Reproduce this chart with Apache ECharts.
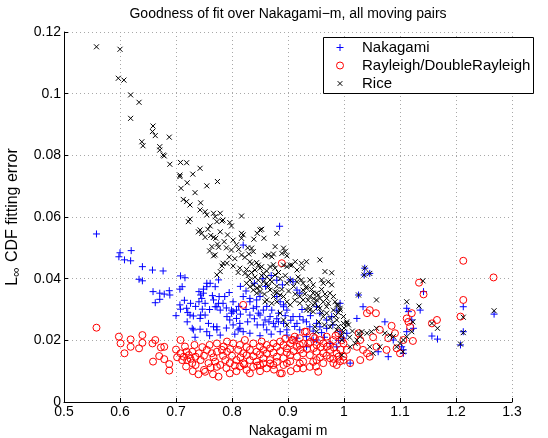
<!DOCTYPE html>
<html>
<head>
<meta charset="utf-8">
<script src="https://cdn.jsdelivr.net/npm/echarts@6/dist/echarts.min.js"></script>
<style>html,body{margin:0;padding:0;background:#fff}#c{width:548px;height:438px}</style>
</head>
<body>
<div id="c"></div>
<script>
const titleText = 'Goodness of fit over Nakagami\u2212m, all moving pairs';
const xLabel = 'Nakagami m';
const seriesNames = ['Nakagami', 'Rayleigh/DoubleRayleigh', 'Rice'];
const xTicks = [0.5, 0.6, 0.7, 0.8, 0.9, 1.0, 1.1, 1.2, 1.3];
const yTicks = [0, 0.02, 0.04, 0.06, 0.08, 0.1, 0.12];

// [Nakagami m, L-inf CDF fitting error]
const nakagamiPoints = [
[0.558,0.0545],[0.600,0.0484],[0.598,0.0471],[0.608,0.0461],[0.620,0.0491],[0.619,0.0458],[0.640,0.0439],[0.658,0.0428],[0.677,0.0425],[0.634,0.0398],[0.640,0.0393],[0.708,0.0409],[0.716,0.0403],[0.711,0.0374],[0.707,0.0366],[0.659,0.0358],[0.671,0.0353],[0.679,0.0350],[0.688,0.0361],[0.689,0.0347],[0.671,0.0333],[0.663,0.0322],[0.707,0.0315],[0.708,0.0301],[0.719,0.0304],[0.721,0.0290],[0.726,0.0320],[0.725,0.0282],[0.741,0.0358],[0.744,0.0347],[0.741,0.0325],[0.744,0.0282],[0.747,0.0301],[0.729,0.0239],[0.743,0.0236],[0.734,0.0210],
[0.761,0.0385],[0.755,0.0374],[0.749,0.0366],[0.746,0.0336],[0.777,0.0342],[0.776,0.0320],[0.773,0.0309],[0.779,0.0298],[0.799,0.0298],[0.802,0.0293],[0.731,0.0279],[0.743,0.0271],[0.752,0.0282],[0.758,0.0255],[0.767,0.0244],[0.773,0.0234],[0.731,0.0234],[0.791,0.0277],[0.796,0.0266],[0.808,0.0271],[0.814,0.0255],[0.811,0.0234],[0.820,0.0228],[0.832,0.0223],[0.820,0.0342],[0.832,0.0336],[0.844,0.0331],[0.844,0.0309],[0.856,0.0298],[0.850,0.0282],[0.859,0.0266],[0.868,0.0277],[0.874,0.0255],[0.880,0.0342],[0.886,0.0325],[0.892,0.0309],[0.898,0.0298],[0.885,0.0570],[0.904,0.0396],[0.909,0.0390],[0.883,0.0260],[0.892,0.0255],[0.898,0.0234],[0.886,0.0228],[0.909,0.0277],[0.916,0.0255],[0.921,0.0234],[0.927,0.0266],[0.951,0.0309],[0.957,0.0288],[0.969,0.0266],[0.978,0.0277],[0.993,0.0320],[0.987,0.0298],[0.933,0.0212],[0.951,0.0201],[0.975,0.0190],[0.987,0.0179],[0.999,0.0207],
[0.755,0.0385],[0.770,0.0374],[0.776,0.0396],[0.749,0.0353],[0.752,0.0320],[0.767,0.0331],[0.770,0.0309],[0.784,0.0320],[0.787,0.0342],[0.802,0.0325],[0.808,0.0298],[0.799,0.0288],[0.832,0.0325],[0.838,0.0304],[0.832,0.0282],[0.847,0.0288],[0.850,0.0342],[0.755,0.0228],[0.773,0.0244],[0.779,0.0217],[0.802,0.0250],[0.814,0.0239],[0.856,0.0250],[0.862,0.0234],[0.877,0.0244],[0.898,0.0217],[0.871,0.0298],[0.883,0.0288],[0.892,0.0315],[0.921,0.0277],[0.933,0.0260],[0.939,0.0244],[0.951,0.0255],[0.916,0.0207],[0.933,0.0179],[0.945,0.0201],
[1.026,0.0347],[1.037,0.0434],[1.046,0.0417],[1.036,0.0412],[1.034,0.0309],[1.023,0.0271],[1.073,0.0260],[1.061,0.0163],[1.079,0.0147],[1.106,0.0158],[0.957,0.0244],[0.969,0.0239],[0.993,0.0228],[1.005,0.0223],[1.011,0.0126],[1.112,0.0304],[1.115,0.0293],[1.088,0.0201],
[1.142,0.0358],[1.136,0.0298],[1.121,0.0266],[1.124,0.0239],[1.112,0.0228],[1.157,0.0214],[1.167,0.0204],[1.213,0.0309],[1.213,0.0228],[1.208,0.0185],[1.268,0.0285],[1.106,0.0169],[1.103,0.0179],
[0.820,0.0509],[0.916,0.0363],[0.921,0.0353],
[0.715,0.0330],[0.735,0.0310],[0.760,0.0300],[0.765,0.0345],[0.790,0.0305],[0.795,0.0355],[0.812,0.0310],[0.815,0.0285],[0.825,0.0300],[0.828,0.0260],[0.840,0.0270],[0.845,0.0250],[0.862,0.0310],[0.866,0.0260],[0.880,0.0270],[0.895,0.0280],[0.905,0.0265],[0.912,0.0245],[0.925,0.0300],[0.940,0.0280],[0.945,0.0230],[0.960,0.0225],[0.965,0.0210],[0.980,0.0250],[0.990,0.0200],[0.870,0.0220],[0.850,0.0215],[0.805,0.0220],[0.790,0.0240],[0.760,0.0215],[0.720,0.0260],[0.700,0.0280],
[0.855,0.0400],[0.870,0.0410],[0.880,0.0395],[0.890,0.0380],[0.860,0.0375],[0.840,0.0385],[0.825,0.0360],[0.815,0.0375]
];

const rayleighPoints = [
[0.558,0.0241],[0.598,0.0212],[0.601,0.0190],[0.608,0.0158],[0.619,0.0203],[0.619,0.0179],[0.634,0.0174],[0.640,0.0217],[0.640,0.0192],[0.658,0.0190],[0.663,0.0201],[0.673,0.0177],[0.679,0.0179],[0.670,0.0149],[0.659,0.0131],[0.679,0.0139],[0.688,0.0123],[0.688,0.0102],[0.708,0.0201],[0.708,0.0158],[0.714,0.0147],[0.723,0.0152],[0.711,0.0136],[0.720,0.0136],[0.729,0.0163],[0.735,0.0147],[0.741,0.0158],[0.744,0.0136],[0.750,0.0104],[0.729,0.0126],
[0.719,0.0163],[0.755,0.0169],[0.764,0.0158],[0.773,0.0163],[0.782,0.0169],[0.791,0.0163],[0.758,0.0126],[0.770,0.0131],[0.779,0.0120],[0.788,0.0136],[0.796,0.0126],[0.752,0.0098],[0.776,0.0082],[0.796,0.0093],[0.773,0.0190],[0.791,0.0196],[0.802,0.0190],[0.820,0.0315],[0.823,0.0201],[0.853,0.0196],[0.889,0.0450],
[0.811,0.0169],[0.820,0.0158],[0.832,0.0169],[0.844,0.0163],[0.856,0.0169],[0.868,0.0174],[0.880,0.0179],[0.892,0.0185],[0.904,0.0190],[0.909,0.0201],[0.916,0.0179],[0.927,0.0190],[0.933,0.0228],[0.945,0.0212],[0.957,0.0201],[0.969,0.0212],[0.981,0.0201],[0.990,0.0223],[0.999,0.0190],[1.005,0.0169],
[0.808,0.0136],[0.820,0.0126],[0.832,0.0136],[0.844,0.0131],[0.856,0.0142],[0.868,0.0136],[0.880,0.0147],[0.892,0.0142],[0.904,0.0152],[0.916,0.0147],[0.927,0.0158],[0.939,0.0152],[0.951,0.0163],[0.963,0.0158],[0.975,0.0169],[0.987,0.0158],[0.999,0.0147],
[0.826,0.0104],[0.838,0.0114],[0.862,0.0109],[0.889,0.0093],[0.916,0.0109],[0.939,0.0114],[0.963,0.0126],[0.987,0.0120],
[0.814,0.0185],[0.838,0.0190],[0.862,0.0185],[0.886,0.0196],[0.898,0.0174],[0.921,0.0185],[0.951,0.0185],[0.975,0.0185],
[0.814,0.0115],[0.850,0.0120],[0.874,0.0120],[0.898,0.0126],[0.927,0.0131],[0.951,0.0136],[0.975,0.0142],
[1.213,0.0458],[1.267,0.0404],[1.134,0.0387],[1.142,0.0349],[1.213,0.0331],[1.208,0.0277],[1.157,0.0255],[1.166,0.0266],[1.046,0.0298],[1.057,0.0288],[1.041,0.0288],[1.112,0.0271],[1.115,0.0260],[1.121,0.0288],[1.118,0.0244],[1.123,0.0198],[1.064,0.0234],[1.085,0.0247],[1.091,0.0223],[1.079,0.0207],[1.052,0.0210],[1.026,0.0223],[1.029,0.0201],[1.023,0.0179],[1.034,0.0169],[1.029,0.0136],[1.011,0.0126],[1.058,0.0179],[1.076,0.0169],[1.094,0.0174],[1.106,0.0201],[1.100,0.0158],[1.041,0.0158],[1.046,0.0147],[0.999,0.0136],[0.981,0.0126],[0.990,0.0147],[0.954,0.0098],[0.927,0.0109],[0.930,0.0228],[0.936,0.0190],[0.921,0.0207],
[0.948,0.0207],[0.907,0.0201],[0.832,0.0093],[0.886,0.0093],[0.773,0.0114],
[0.700,0.0170],[0.716,0.0180],[0.733,0.0185],[0.747,0.0178],[0.760,0.0185],[0.785,0.0180],[0.797,0.0172],[0.826,0.0178],[0.850,0.0180],[0.874,0.0190],[0.895,0.0205],[0.912,0.0212],[0.940,0.0195],[0.963,0.0190],[0.985,0.0215],[0.996,0.0200],
[0.702,0.0145],[0.726,0.0140],[0.750,0.0150],[0.767,0.0145],[0.784,0.0150],[0.800,0.0150],[0.815,0.0145],[0.826,0.0152],[0.838,0.0148],[0.850,0.0155],[0.862,0.0158],[0.874,0.0160],[0.886,0.0165],[0.898,0.0160],[0.910,0.0165],[0.922,0.0170],[0.934,0.0172],[0.946,0.0175],[0.958,0.0178],[0.970,0.0180],[0.982,0.0176],[0.994,0.0170],
[0.718,0.0115],[0.735,0.0120],[0.762,0.0112],[0.790,0.0110],[0.805,0.0118],[0.822,0.0122],[0.845,0.0118],[0.856,0.0125],[0.868,0.0125],[0.880,0.0130],[0.892,0.0120],[0.904,0.0132],[0.921,0.0125],[0.945,0.0130],[0.957,0.0145],[0.969,0.0150],[0.981,0.0140],[0.993,0.0132],
[0.730,0.0100],[0.740,0.0090],[0.766,0.0090],[0.808,0.0100],[0.850,0.0100],[0.875,0.0105],[0.905,0.0100],[0.950,0.0115]
];

const ricePoints = [
[0.558,0.1152],[0.600,0.1144],[0.597,0.1050],[0.607,0.1044],[0.619,0.0996],[0.634,0.0972],[0.619,0.0920],[0.659,0.0895],[0.658,0.0877],[0.663,0.0864],[0.688,0.0859],[0.639,0.0844],[0.641,0.0831],[0.671,0.0828],[0.671,0.0817],[0.677,0.0801],[0.679,0.0798],[0.689,0.0771],[0.708,0.0777],[0.719,0.0776],[0.743,0.0758],[0.707,0.0736],[0.707,0.0731],[0.730,0.0739],[0.720,0.0711],[0.774,0.0715],[0.755,0.0701],[0.709,0.0693],[0.734,0.0679],[0.713,0.0657],[0.719,0.0650],[0.725,0.0639],[0.744,0.0646],[0.743,0.0623],[0.752,0.0617],[0.755,0.0607],[0.767,0.0612],[0.779,0.0612],[0.770,0.0601],[0.784,0.0590],[0.782,0.0587],[0.773,0.0585],[0.817,0.0603],[0.725,0.0593],[0.722,0.0585],[0.761,0.0571],[0.796,0.0582],[0.799,0.0571],[0.853,0.0560],[0.743,0.0558],[0.746,0.0547],[0.740,0.0552],[0.779,0.0552],[0.817,0.0547],[0.820,0.0542],[0.817,0.0531],[0.880,0.0547],[0.845,0.0547],[0.850,0.0558],[0.752,0.0534],[0.767,0.0534],[0.771,0.0531],[0.792,0.0542],[0.802,0.0525],[0.839,0.0528],[0.857,0.0531],[0.774,0.0512],[0.764,0.0504],[0.776,0.0502],[0.799,0.0493],[0.835,0.0499],[0.838,0.0488],[0.877,0.0504],[0.892,0.0499],[0.895,0.0488],[0.770,0.0477],[0.767,0.0474],[0.817,0.0477],[0.823,0.0469],[0.859,0.0474],[0.865,0.0477],[0.871,0.0471],[0.874,0.0480],[0.889,0.0482],[0.898,0.0474],[0.913,0.0455],[0.933,0.0455],[0.784,0.0450],[0.782,0.0441],[0.832,0.0455],[0.835,0.0448],[0.844,0.0452],[0.847,0.0444],[0.853,0.0439],[0.850,0.0434],[0.802,0.0441],[0.814,0.0434],[0.868,0.0439],[0.877,0.0434],[0.898,0.0439],[0.907,0.0444],
[0.841,0.0428],[0.779,0.0423],[0.773,0.0412],[0.791,0.0450],[0.826,0.0385],[0.832,0.0374],[0.838,0.0363],[0.844,0.0353],[0.850,0.0358],[0.856,0.0417],[0.862,0.0406],[0.868,0.0396],[0.877,0.0412],[0.892,0.0444],[0.904,0.0444],[0.916,0.0428],[0.924,0.0450],[0.916,0.0390],[0.927,0.0385],[0.939,0.0396],[0.933,0.0374],[0.945,0.0380],[0.957,0.0461],[0.963,0.0385],[0.972,0.0390],[0.978,0.0380],[0.966,0.0423],[0.978,0.0419],[0.862,0.0331],[0.874,0.0342],[0.880,0.0325],[0.892,0.0342],[0.898,0.0325],[0.939,0.0342],[0.951,0.0353],[0.957,0.0336],[0.963,0.0325],[0.969,0.0336],[0.975,0.0353],[0.981,0.0342],[0.945,0.0315],[0.957,0.0304],[0.969,0.0309],[0.981,0.0298],[0.987,0.0315],[0.993,0.0304],[0.963,0.0277],[0.975,0.0271],[0.987,0.0266],[0.999,0.0277],[1.005,0.0260],[0.975,0.0244],[0.987,0.0234],[0.999,0.0228],[1.005,0.0255],[0.996,0.0152],[0.892,0.0266],
[0.926,0.0434],[1.037,0.0434],[1.046,0.0417],[1.036,0.0412],[0.924,0.0396],[0.960,0.0396],[0.927,0.0363],[0.954,0.0347],[1.026,0.0347],[0.927,0.0331],[0.948,0.0320],[0.990,0.0315],[1.058,0.0331],[0.933,0.0298],[0.945,0.0293],[0.969,0.0288],[0.993,0.0298],[0.999,0.0255],[1.008,0.0250],[1.026,0.0223],[1.029,0.0212],[1.032,0.0228],[1.023,0.0201],[0.996,0.0201],[1.011,0.0179],[1.041,0.0223],[1.049,0.0228],[1.058,0.0239],[1.073,0.0223],[1.082,0.0217],[1.046,0.0179],[1.052,0.0158],[1.064,0.0179],[1.088,0.0212],[1.094,0.0179],[1.112,0.0325],
[1.141,0.0393],[1.134,0.0311],[1.123,0.0260],[1.121,0.0228],[1.167,0.0239],[1.157,0.0255],[1.112,0.0212],[1.106,0.0201],[1.100,0.0190],[1.213,0.0275],[1.213,0.0225],[1.208,0.0188],[1.268,0.0296],[1.105,0.0163],
[0.823,0.0417],[0.832,0.0396],[0.838,0.0380],[0.850,0.0374],[0.862,0.0385],[0.868,0.0363],[0.877,0.0358],[0.886,0.0347],[0.904,0.0315],[0.933,0.0369],[0.945,0.0353],[0.951,0.0331],[0.954,0.0309],[0.939,0.0298],[0.921,0.0342],[0.859,0.0325],[0.871,0.0320],[0.886,0.0288],[0.898,0.0250],[0.948,0.0244],[0.951,0.0228],
[0.805,0.0465],[0.811,0.0420],[0.826,0.0430],[0.829,0.0410],[0.835,0.0420],[0.841,0.0405],[0.847,0.0395],[0.853,0.0410],[0.856,0.0390],[0.862,0.0425],[0.865,0.0375],[0.871,0.0390],[0.874,0.0445],[0.880,0.0375],[0.883,0.0420],[0.886,0.0400],[0.889,0.0365],[0.895,0.0410],[0.898,0.0385],[0.901,0.0360],[0.904,0.0395],[0.910,0.0375],[0.913,0.0350],[0.918,0.0405],[0.921,0.0320],[0.930,0.0350],[0.936,0.0330],[0.942,0.0365],[0.946,0.0335],[0.960,0.0365],[0.966,0.0350],[0.972,0.0320],[0.984,0.0325],[0.990,0.0290],[0.960,0.0290],[0.936,0.0310],[0.912,0.0330],[0.880,0.0355],[0.858,0.0350],[0.845,0.0370],
[0.757,0.0560],[0.762,0.0540],[0.786,0.0520],[0.790,0.0500],[0.808,0.0510],[0.812,0.0495],[0.828,0.0500],[0.830,0.0480],[0.760,0.0490],[0.795,0.0470],
[0.955,0.0260],[0.965,0.0250],[0.980,0.0255],[0.990,0.0245],[1.000,0.0240],[0.995,0.0215],[1.015,0.0230],[1.020,0.0190],[0.985,0.0280],[1.010,0.0210]
];

const FONT = '"Liberation Sans", Arial, Helvetica, sans-serif';
const PLUS = 'path://M5,0L5,10M0,5L10,5';
const CROSS = 'path://M0,0L10,10M10,0L0,10';
const CROSS_LEGEND = 'path://M-2.5,-2.5M0,0L10,10M10,0L0,10M12.5,12.5';

const chart = echarts.init(document.getElementById('c'), null, {renderer: 'canvas'});
const fmt = v => String(+v.toFixed(2));
chart.setOption({
  animation: false,
  backgroundColor: '#fff',
  textStyle: {fontFamily: FONT},
  title: {
    text: titleText, left: 288, top: 7, padding: 0, textAlign: 'center',
    textStyle: {fontFamily: FONT, fontSize: 14, fontWeight: 'normal', color: '#000'}
  },
  grid: {left: 64, right: 36, top: 32, bottom: 36, containLabel: false, outerBoundsMode: 'none'},
  xAxis: {
    type: 'value', min: xTicks[0], max: xTicks[xTicks.length - 1], interval: 0.1,
    name: xLabel, nameLocation: 'middle', nameGap: 18,
    nameTextStyle: {fontFamily: FONT, fontSize: 14, color: '#000'},
    axisLine: {show: true, onZero: false, lineStyle: {color: '#000', width: 1}},
    axisTick: {show: true, inside: true, length: 4, lineStyle: {color: '#000'}},
    axisLabel: {fontFamily: FONT, fontSize: 14, color: '#000', margin: 3, formatter: fmt},
    splitLine: {show: true, lineStyle: {color: '#a8a8a8', type: [1, 3], width: 1}}
  },
  yAxis: {
    type: 'value', min: yTicks[0], max: yTicks[yTicks.length - 1], interval: 0.02,
    name: '{a|L}{s|\u221e}{a| CDF fitting error}', nameLocation: 'middle', nameGap: 37, nameRotate: 90,
    nameTextStyle: {
      fontFamily: FONT, fontSize: 16, color: '#000',
      rich: {
        a: {fontFamily: FONT, fontSize: 16, color: '#000'},
        s: {fontFamily: FONT, fontSize: 13, color: '#000', padding: [7, 1, 0, 0]}
      }
    },
    axisLine: {show: true, onZero: false, lineStyle: {color: '#000', width: 1}},
    axisTick: {show: true, inside: true, length: 4, lineStyle: {color: '#000'}},
    axisLabel: {fontFamily: FONT, fontSize: 14, color: '#000', margin: 3, formatter: fmt},
    splitLine: {show: true, lineStyle: {color: '#a8a8a8', type: [1, 3], width: 1}}
  },
  legend: {
    orient: 'vertical', left: 336, top: 39, padding: 0, itemGap: 1, z: 10,
    itemWidth: 24, itemHeight: 7,
    itemStyle: {borderWidth: 1},
    data: [
      {name: seriesNames[0]},
      {name: seriesNames[1]},
      {name: seriesNames[2], icon: CROSS_LEGEND}
    ],
    textStyle: {fontFamily: FONT, fontSize: 15, color: '#000', lineHeight: 17, padding: [0, 0, 0, 5]}
  },
  graphic: [{
    type: 'rect', z: 9, zlevel: 0,
    shape: {x: 323.5, y: 37.5, width: 210, height: 56},
    style: {fill: '#fff', stroke: '#000', lineWidth: 1}
  }],
  series: [
    {
      name: seriesNames[0], type: 'scatter', data: nakagamiPoints, symbol: PLUS, symbolSize: 7,
      itemStyle: {color: 'rgba(0,0,0,0)', borderColor: '#0000ff', borderWidth: 1, opacity: 1},
      z: 2
    },
    {
      name: seriesNames[1], type: 'scatter', data: rayleighPoints, symbol: 'circle', symbolSize: 7,
      itemStyle: {color: 'rgba(0,0,0,0)', borderColor: '#ff0000', borderWidth: 1, opacity: 1},
      z: 3
    },
    {
      name: seriesNames[2], type: 'scatter', data: ricePoints, symbol: CROSS, symbolSize: 5,
      itemStyle: {color: 'rgba(0,0,0,0)', borderColor: '#000000', borderWidth: 1, opacity: 1},
      z: 4
    }
  ]
});
</script>
</body>
</html>
